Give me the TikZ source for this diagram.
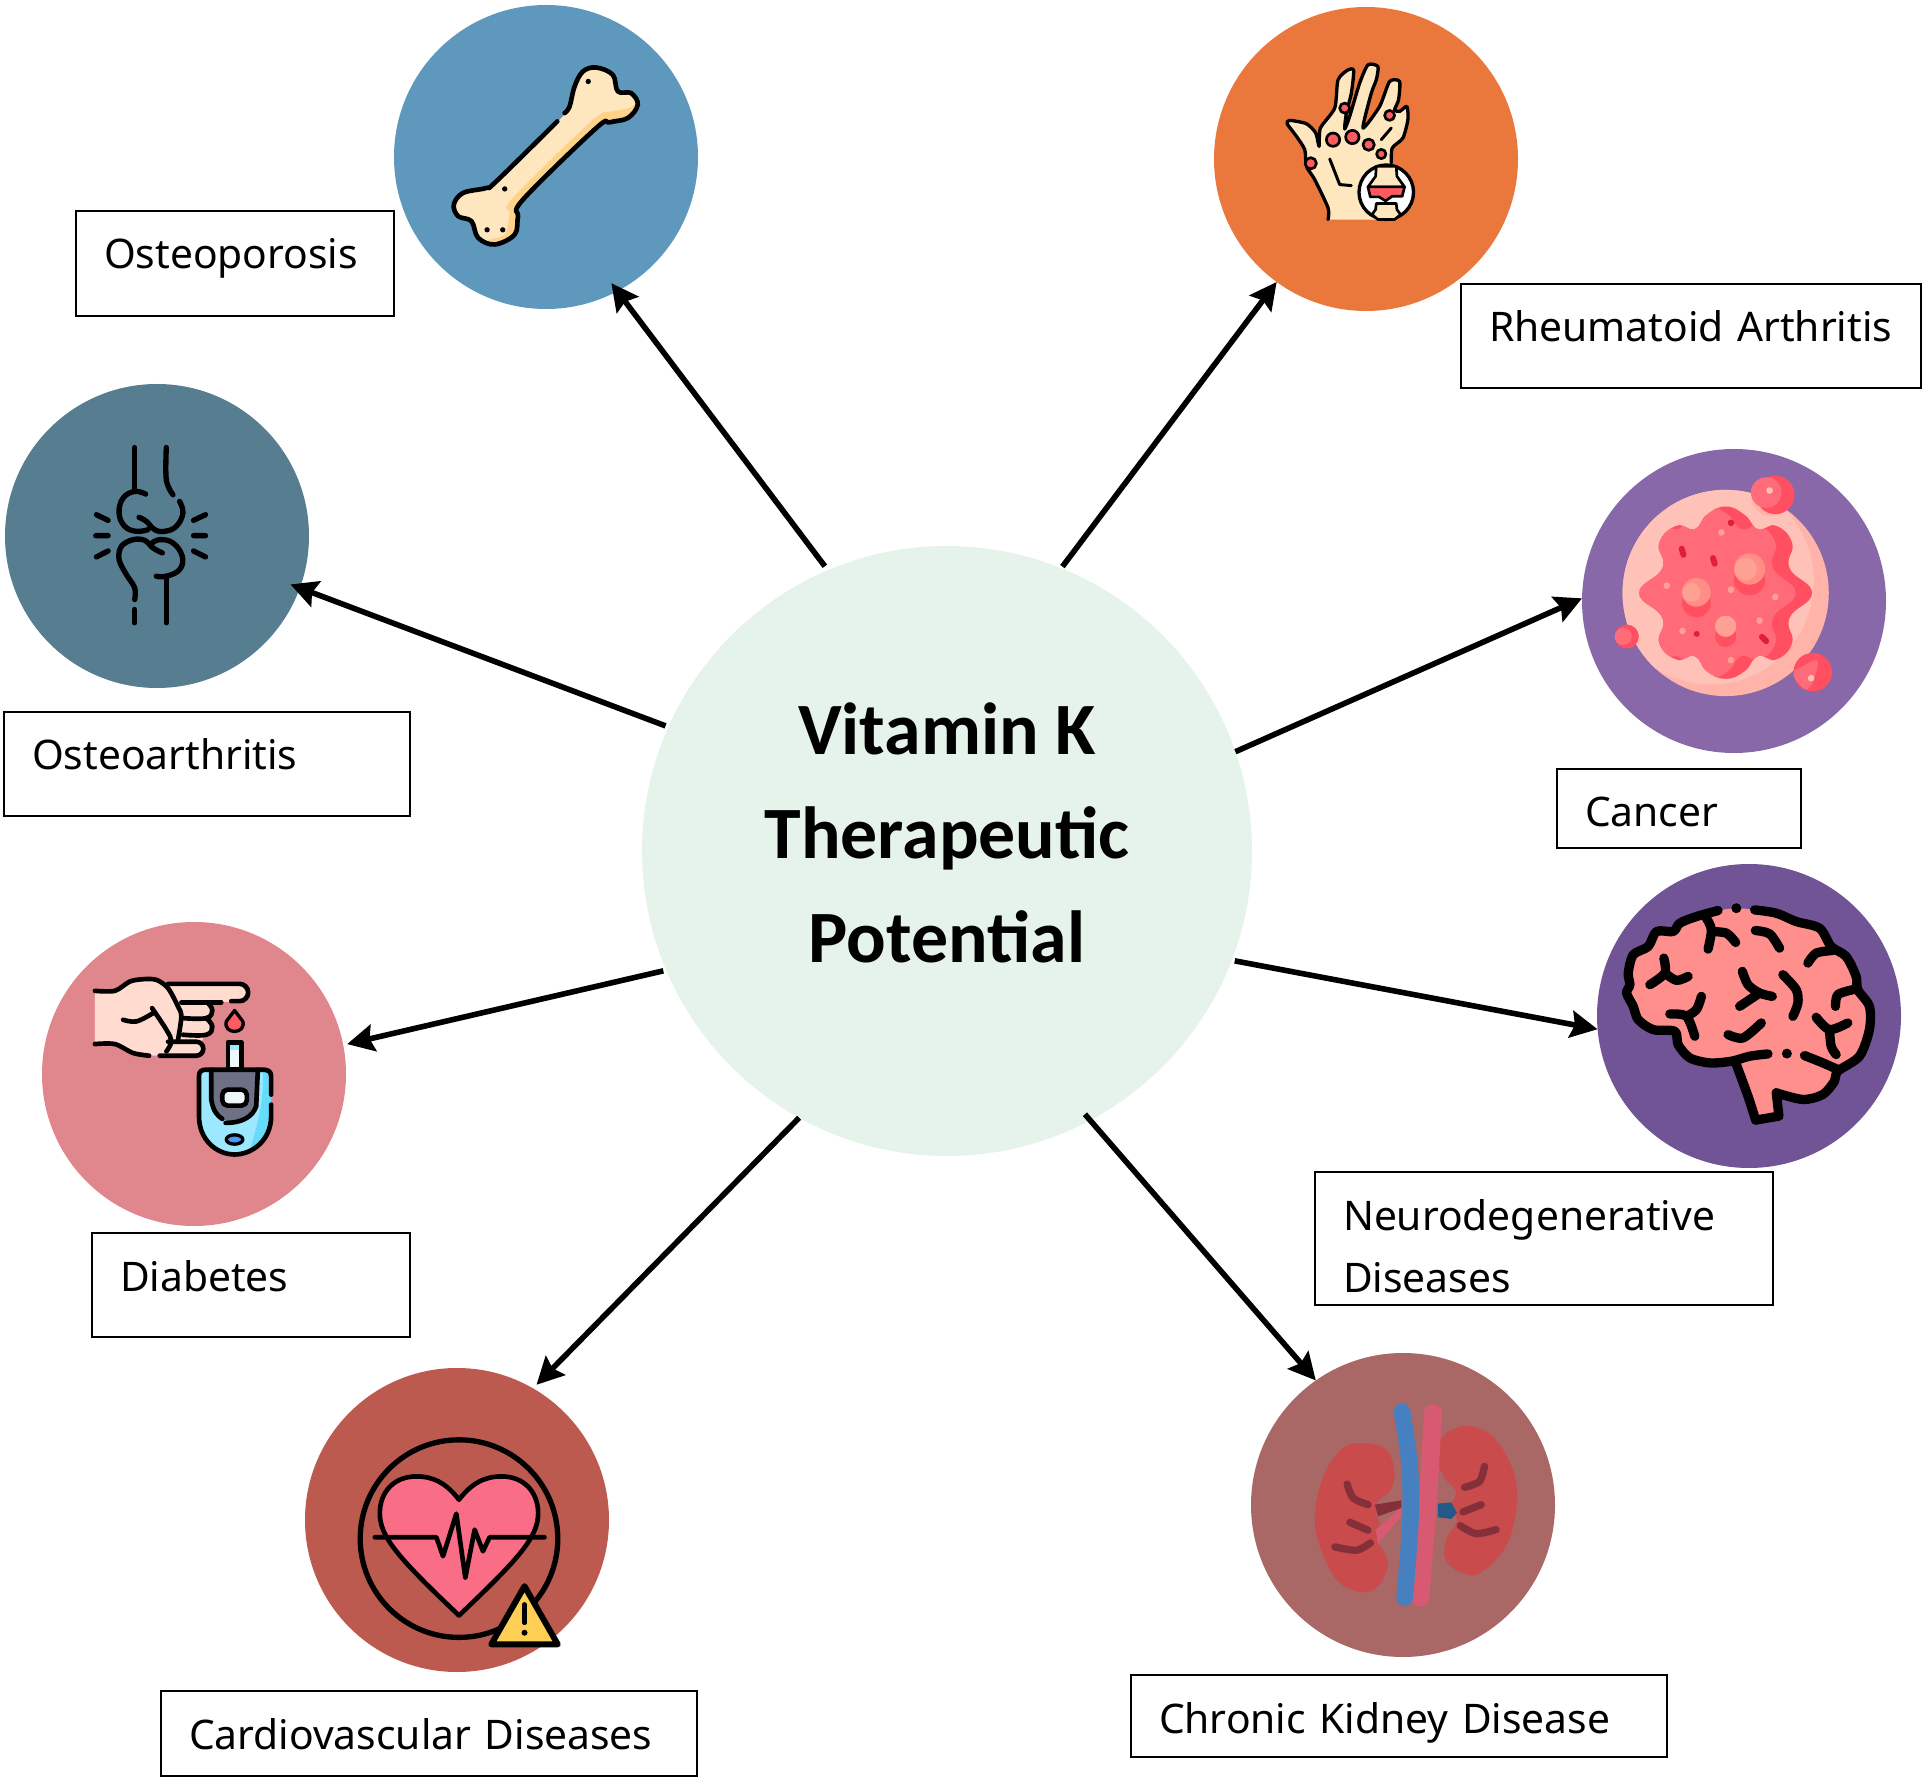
\documentclass[tikz,border=0pt]{standalone}
\usepackage{fontspec}
\setmainfont{Noto Sans}
\newfontfamily\titlefont{Carlito}
\usetikzlibrary{arrows.meta}
\definecolor{hubgreen}{HTML}{E6F3EA}
\definecolor{bonecol}{HTML}{5E98BC}
\definecolor{handcol}{HTML}{EA783C}
\definecolor{jointcol}{HTML}{577D90}
\definecolor{cellcol}{HTML}{8868A8}
\definecolor{braincol}{HTML}{705496}
\definecolor{sugarcol}{HTML}{E0878D}
\definecolor{heartcol}{HTML}{BC5A50}
\definecolor{kidneycol}{HTML}{A96765}
\definecolor{ivory}{HTML}{FEE6BE}
\definecolor{ivorydark}{HTML}{FFD28A}
\definecolor{sore}{HTML}{FF5A5F}
\definecolor{blob}{HTML}{FF6B78}
\definecolor{blobdark}{HTML}{FF4F60}
\definecolor{blobpale}{HTML}{FFA094}
\definecolor{blobshade}{HTML}{FF8F84}
\definecolor{diskpale}{HTML}{FFC2B8}
\definecolor{diskdark}{HTML}{FFB3A9}
\definecolor{speck}{HTML}{E0203A}
\definecolor{brainpink}{HTML}{FF8F8C}
\definecolor{skin}{HTML}{FFDCCF}
\definecolor{meterblue}{HTML}{9BE8FF}
\definecolor{meterdark}{HTML}{65DCFA}
\definecolor{meterpanel}{HTML}{6E7085}
\definecolor{screenpale}{HTML}{EEF8FA}
\definecolor{heartpink}{HTML}{F96E86}
\definecolor{warnyellow}{HTML}{FFCF55}
\definecolor{kidneyred}{HTML}{C94B4B}
\definecolor{kidneyline}{HTML}{842F3A}
\definecolor{tubepink}{HTML}{D85A72}
\definecolor{tubeblue}{HTML}{4680C0}
\definecolor{veindark}{HTML}{245A8A}
\tikzset{
  >={Stealth[length=0.27cm,width=0.27cm,inset=0.04cm]},
  disease/.style={circle, minimum size=3.04cm, inner sep=0pt, outer sep=0pt},
  labelbox/.style={draw, line width=0.02cm, inner xsep=0.28cm, inner ysep=0pt, outer sep=0pt, align=left, text height=0.58cm,
    font=\fontsize{11.6}{17.9}\selectfont},
  vkarrow/.style={->, line width=0.056cm},
  zoomed/.style={x=0.003333cm, y=-0.003333cm, line cap=round, line join=round},
  ink/.style={line width=#1*0.003333cm}
}
\newcommand\cellblob{plot[smooth cycle, tension=0.8] coordinates {(468,200) (525,225) (565,268) (620,258) (668,310) (660,385) (728,460) (660,535) (668,610) (620,660) (565,650) (525,695) (468,718) (411,695) (375,650) (320,660) (268,610) (278,535) (208,460) (278,385) (268,310) (320,258) (375,268) (411,225)}}
\begin{document}
\begin{tikzpicture}
\useasboundingbox (0,0) rectangle (19.25,17.80);

\node at (9.47,9.29) [circle, fill=hubgreen, minimum size=6.1cm, inner sep=0pt, outer sep=0pt, align=center,
  font=\titlefont\bfseries\fontsize{21}{29.6}\selectfont] (hub) {Vitamin K\\Therapeutic\\Potential\\[-0.68cm]};

\node at (5.46,16.23) [disease, fill=bonecol] (bone) {};
\node at (13.66,16.21) [disease, fill=handcol] (hand) {};
\node at (1.57,12.44) [disease, fill=jointcol] (joint) {};
\node at (17.34,11.79) [disease, fill=cellcol] (cell) {};
\node at (17.49,7.64) [disease, fill=braincol] (brain) {};
\node at (1.94,7.06) [disease, fill=sugarcol] (sugar) {};
\node at (4.57,2.60) [disease, fill=heartcol] (heart) {};
\node at (14.03,2.75) [disease, fill=kidneycol] (kidney) {};

\node at (2.35,15.165) [labelbox, text width=2.62cm, text depth=0.47cm] (osteoporosis) {Osteoporosis};
\node at (16.91,14.44) [labelbox, text width=4.04cm, text depth=0.46cm] (rheumatoid) {Rheumatoid Arthritis};
\node at (2.07,10.16) [labelbox, text width=3.50cm, text depth=0.46cm] (osteoarthritis) {Osteoarthritis};
\node at (16.79,9.715) [labelbox, text width=1.88cm, text depth=0.21cm] (cancer) {Cancer};
\node at (15.44,5.415) [labelbox, text width=4.02cm, text depth=0.75cm] (neuro) {Neurodegenerative\\Diseases};
\node at (2.51,4.95) [labelbox, text width=2.62cm, text depth=0.46cm] (diabetes) {Diabetes};
\node at (4.29,0.465) [labelbox, text width=4.80cm, text depth=0.27cm] (cardio) {Cardiovascular Diseases};
\node at (13.99,0.64) [labelbox, text width=4.80cm, text depth=0.24cm] (ckd) {Chronic Kidney Disease};

\draw[vkarrow, shorten <=0.05cm, shorten >=-0.1cm] (hub.113.3) -- (bone.-62.4);
\draw[vkarrow, shorten <=0.02cm] (hub.68) -- (hand.234.1);
\draw[vkarrow, shorten <=0.03cm, shorten >=-0.1cm] (hub.156.8) -- (joint.-20.2);
\draw[vkarrow] (hub.19.1) -- (cell.179);
\draw[vkarrow, shorten <=0.03cm] (hub.-21.7) -- (brain.185.3);
\draw[vkarrow, shorten <=-0.08cm] (hub.-62.4) -- (kidney.125.8);
\draw[vkarrow, shorten >=0.05cm] (hub.-119.5) -- (heart.60.7);
\draw[vkarrow, shorten <=0.03cm, shorten >=0.04cm] (hub.203.8) -- (sugar.11.8);

% bone
\begin{scope}[shift={(3.80,17.80)}, zoomed]
  \fill[ivory] plot[smooth cycle, tension=0.6] coordinates {(650,203) (700,225) (715,275) (755,280) (775,315) (745,355) (690,368) (650,385) (430,600) (415,650) (405,705) (345,735) (295,715) (275,665) (235,650) (222,615) (250,580) (320,565) (350,545) (535,365) (570,320) (585,260) (610,215)};
  \fill[ivorydark] plot[smooth cycle, tension=0.5] coordinates {(770,310) (745,355) (690,368) (650,385) (430,600) (415,650) (405,705) (345,735) (325,722) (375,705) (390,640) (395,600) (640,360) (700,335) (750,325)};
  \draw[ink=14] plot[smooth, tension=0.6] coordinates {(555,340) (570,320) (585,260) (610,215) (650,203) (700,225) (715,275) (755,280) (775,315) (745,355) (690,368) (650,385) (430,600) (415,650) (405,705) (345,735) (295,715) (275,665) (235,650) (222,615) (250,580) (320,565) (350,545) (533,365)};
  \fill (626,245) circle[radius=8] (375,568) circle[radius=8] (322,691) circle[radius=8] (369,691) circle[radius=8];
\end{scope}

% hand with sore joints
\begin{scope}[shift={(12.00,17.80)}, zoomed]
  \fill[ivory] (385,660) -- (560,660) -- (575,480) -- cycle;
  \draw[ink=10, fill=ivory] plot[smooth, tension=0.4] coordinates {(385,660) (385,625) (345,540) (320,500) (315,450) (290,410) (262,372) (270,362) (320,372) (348,400) (358,440) (362,385) (405,325) (415,240) (445,210) (462,212) (455,280) (440,340) (435,388) (450,350) (480,250) (505,195) (535,200) (530,240) (515,280) (490,385) (540,320) (570,245) (600,245) (597,300) (585,330) (600,335) (622,320) (625,360) (610,415) (578,445) (575,490)};
  \draw[ink=9] (390,478) -- (420,555) -- (455,558) (545,420) -- (575,385);
  \draw[ink=8, fill=sore] (435,325) circle[radius=15] (570,347) circle[radius=15] (400,420) circle[radius=20] (458,412) circle[radius=20] (507,435) circle[radius=17] (545,463) circle[radius=14] (333,491) circle[radius=17];
  \draw[ink=10, fill=white] (560,578) circle[radius=82];
  \draw[ink=8, fill=ivory] (530,500) -- (590,500) -- (592,530) -- (615,562) -- (505,562) -- (528,530) -- cycle;
  \draw[ink=8, fill=sore] (505,562) -- (615,562) -- (608,590) -- (578,590) -- (558,604) -- (538,592) -- (512,592) -- cycle;
  \draw[ink=8, fill=ivory] (530,612) -- (590,612) -- (592,630) -- (603,645) -- (585,660) -- (535,660) -- (517,645) -- (528,630) -- cycle;
\end{scope}

% knee
\begin{scope}[shift={(0,14.00)}, zoomed, ink=16]
  \draw (405,203) -- (405,335);
  \draw plot[smooth, tension=0.7] coordinates {(438,343) (405,335) (370,355) (358,400) (375,440) (410,455) (445,450)};
  \draw plot[smooth, tension=0.7] coordinates {(418,413) (440,425) (465,450) (495,455) (530,440) (550,400) (540,365)};
  \draw plot[smooth, tension=0.6] coordinates {(500,203) (500,300) (520,345)};
  \draw plot[smooth, tension=0.6] coordinates {(405,660) (405,625) (380,585) (358,540) (365,500) (400,480) (435,482) (460,505) (488,520)};
  \draw plot[smooth, tension=0.7] coordinates {(455,492) (480,480) (520,490) (548,530) (540,570) (500,590) (470,590)};
  \draw (500,590) -- (500,730) (405,690) -- (405,730);
  \draw (290,405) -- (325,422) (288,468) -- (325,468) (290,532) -- (325,514);
  \draw (618,405) -- (582,422) (582,468) -- (618,468) (582,514) -- (618,532);
\end{scope}

% tumour cell
\begin{scope}[shift={(15.70,13.40)}, zoomed]
  \fill[diskdark] (468,460) circle[radius=310];
  \begin{scope}
    \clip (468,460) circle[radius=310];
    \fill[diskpale] (423,425) circle[radius=310];
    \fill[diskdark] (605,170) circle[radius=60];
  \end{scope}
  \fill[blobdark] \cellblob;
  \begin{scope}
    \clip \cellblob;
    \fill[blob, shift={(-50,0)}] \cellblob;
  \end{scope}
  \fill[blobdark] (380,490) circle[radius=43] (540,420) circle[radius=47] (468,590) circle[radius=32];
  \fill[blobshade] (380,458) circle[radius=43] (540,388) circle[radius=47];
  \fill[blobpale] (365,458) circle[radius=28] (528,388) circle[radius=34];
  \fill[blobpale] (468,560) circle[radius=32];
  \fill[blobpale] (455,278) circle[radius=10] (291,438) circle[radius=10] (484,450) circle[radius=10] (617,472) circle[radius=10] (570,543) circle[radius=10] (338,574) circle[radius=10] (484,662) circle[radius=10];
  \fill[speck] (484,249) circle[radius=10] (381,583) circle[radius=9];
  \draw[speck, ink=18] (336,327) -- (341,345) (430,355) -- (435,372) (577,592) -- (590,605);
  \fill[blobdark] (617,165) circle[radius=58];
  \fill[blob] (590,158) circle[radius=46];
  \fill[blobdark] (730,698) circle[radius=58];
  \fill[blob] plot[smooth cycle, tension=0.7] coordinates {(745,665) (720,745) (690,735) (672,700) (700,680)};
  \fill[blobdark] (171,591) circle[radius=36];
  \fill[blob] (160,591) circle[radius=26];
  \fill[diskpale] (600,152) circle[radius=10] (725,716) circle[radius=10];
\end{scope}

% brain
\begin{scope}[shift={(15.90,9.20)}, zoomed, ink=28]
  \fill[brainpink] plot[smooth cycle, tension=0.5] coordinates {(385,152) (440,145) (495,150) (560,160) (620,185) (690,205) (725,260) (770,290) (800,350) (805,390) (840,440) (840,510) (810,590) (745,635) (735,665) (700,705) (640,720) (560,700) (568,770) (498,782) (475,710) (440,615) (360,610) (300,595) (265,555) (255,515) (190,510) (145,480) (130,440) (110,400) (120,375) (115,340) (130,285) (175,260) (200,215) (250,215) (270,190) (320,170)};
  \draw plot[smooth, tension=0.5] coordinates {(385,152) (320,170) (270,190) (250,215) (200,215) (175,260) (130,285) (115,340) (120,375) (110,400) (130,440) (145,480) (190,510) (255,515) (265,555) (300,595) (360,610) (425,605) (480,590) (535,583)};
  \draw plot[smooth, tension=0.5] coordinates {(645,588) (700,610) (745,630)};
  \draw plot[smooth, tension=0.5] coordinates {(495,150) (560,160) (620,185) (690,205) (725,260) (770,290) (800,350) (805,390) (840,440) (840,510) (810,590) (745,635) (735,665) (700,705) (640,720) (560,700)};
  \draw (560,700) -- (568,770) -- (498,782);
  \draw plot[smooth, tension=0.5] coordinates {(498,782) (475,710) (440,615)};
  \draw plot[smooth] coordinates {(350,175) (365,210) (355,268)};
  \draw plot[smooth] coordinates {(365,215) (410,220) (438,248)};
  \draw plot[smooth] coordinates {(497,212) (540,222) (570,265)};
  \draw plot[smooth] coordinates {(222,295) (225,340) (180,375)};
  \draw plot[smooth] coordinates {(225,340) (260,362) (295,350)};
  \draw plot[smooth] coordinates {(458,335) (475,375) (510,400) (548,410)};
  \draw plot[smooth] coordinates {(510,400) (450,440)};
  \draw plot[smooth] coordinates {(580,345) (620,390) (625,430) (610,470)};
  \draw plot[smooth] coordinates {(240,463) (290,470) (315,530)};
  \draw plot[smooth] coordinates {(335,410) (320,450) (290,470)};
  \draw plot[smooth] coordinates {(415,525) (460,535) (515,490)};
  \draw plot[smooth] coordinates {(655,310) (680,280) (730,272)};
  \draw plot[smooth] coordinates {(738,440) (745,405) (790,390)};
  \draw plot[smooth] coordinates {(680,473) (720,510) (775,490)};
  \draw plot[smooth] coordinates {(720,510) (725,560) (740,585)};
  \fill (592,582) circle[radius=15] (440,145) circle[radius=15];
\end{scope}

% finger prick and meter
\begin{scope}[shift={(0.40,8.60)}, zoomed, ink=14]
  \fill[skin] (165,213) -- (225,213) -- (270,185) -- (310,178) -- (350,180) -- (385,192) -- (600,192) -- (622,218) -- (600,245) -- (510,248) -- (515,285) -- (505,300) -- (510,330) -- (495,350) -- (485,365) -- (490,395) -- (470,408) -- (330,408) -- (280,400) -- (225,373) -- (165,373) -- cycle;
  \draw plot[smooth, tension=0.5] coordinates {(165,213) (225,213) (270,185) (310,178) (350,180) (385,205) (415,260) (425,290) (415,360)};
  \draw (385,192) -- (600,192) arc[start angle=-90, end angle=90, radius=26] -- (575,244);
  \draw (425,248) -- (545,248);
  \draw plot[smooth, tension=0.7] coordinates {(505,250) (518,272) (500,295) (430,295)};
  \draw plot[smooth, tension=0.7] coordinates {(500,295) (518,320) (500,345) (430,345)};
  \draw plot[smooth, tension=0.5] coordinates {(165,373) (225,373) (280,400) (328,408)};
  \draw (360,408) -- (470,408) arc[start angle=90, end angle=-90, radius=21] -- (385,366);
  \draw plot[smooth, tension=0.6] coordinates {(250,300) (290,305) (340,280)};
  \draw plot[smooth, tension=0.6] coordinates {(337,265) (380,330) (395,365) (380,395)};
  \draw[ink=10, fill=sore] (585,272) -- (610,305) .. controls (620,345) and (550,345) .. (560,305) -- cycle;
  \draw[fill=screenpale] (565,368) rectangle (605,448);
  \fill[meterblue] (572,376) rectangle (598,392);
  \fill[meterblue] (478,470) .. controls (478,455) and (485,450) .. (500,450) -- (670,450) .. controls (685,450) and (695,455) .. (695,470) -- (695,590) .. controls (695,660) and (640,705) .. (585,705) .. controls (530,705) and (478,660) .. (478,590) -- cycle;
  \fill[meterdark] (695,470) -- (695,590) .. controls (695,640) and (670,680) .. (630,695) .. controls (645,640) and (675,560) .. (670,450) -- cycle;
  \fill[meterpanel] (515,450) -- (655,450) -- (650,560) .. controls (640,590) and (610,608) .. (585,608) .. controls (550,605) and (520,590) .. (515,540) -- cycle;
  \draw (515,450) -- (515,540) .. controls (520,575) and (535,590) .. (548,598);
  \draw (655,450) -- (650,560) .. controls (640,590) and (610,610) .. (558,610);
  \draw (695,525) -- (695,470) .. controls (695,455) and (685,450) .. (670,450) -- (500,450) .. controls (485,450) and (478,455) .. (478,470) -- (478,590) .. controls (478,660) and (530,705) .. (585,705) .. controls (640,705) and (695,660) .. (695,590) -- (695,555);
  \draw[fill=screenpale, rounded corners=1.5pt] (548,510) rectangle (622,558);
  \draw[ink=10, fill=meterdark!70!blue] (585,660) ellipse[x radius=25, y radius=14];
\end{scope}

% heart with warning
\begin{scope}[shift={(3.00,4.20)}, zoomed]
  \draw[ink=16] (478,537) circle[radius=297];
  \draw[ink=14, fill=heartpink] (478,420) .. controls (440,370) and (400,350) .. (350,350) .. controls (280,350) and (240,400) .. (240,460) .. controls (240,530) and (290,590) .. (478,768) .. controls (666,590) and (716,530) .. (716,460) .. controls (716,400) and (676,350) .. (606,350) .. controls (556,350) and (516,370) .. (478,420) -- cycle;
  \draw[ink=14] (225,533) -- (410,533) -- (430,590) -- (470,462) -- (497,655) -- (525,510) -- (550,575) -- (570,533) -- (735,533);
  \draw[ink=18, fill=warnyellow] (675,680) -- (775,855) -- (575,855) -- cycle;
  \draw[ink=14] (675,735) -- (675,790);
  \fill (675,820) circle[radius=9];
\end{scope}

% kidneys
\begin{scope}[shift={(12.50,4.30)}, zoomed]
  \fill[kidneyred] plot[smooth cycle, tension=0.6] coordinates {(340,280) (410,300) (435,370) (420,425) (378,465) (392,540) (382,570) (415,640) (385,710) (330,728) (260,690) (210,590) (195,490) (225,370) (280,295)};
  \fill[kidneyred] plot[smooth cycle, tension=0.6] coordinates {(650,228) (730,260) (790,360) (802,470) (770,590) (700,665) (650,675) (590,635) (590,570) (622,515) (605,470) (620,425) (585,385) (565,330) (580,260)};
  \fill[veindark] (565,462) -- (605,458) -- (622,490) -- (605,508) -- (565,503) -- cycle;
  \fill[kidneyline] (375,465) -- (455,452) -- (455,475) -- (385,500) -- cycle;
  \fill[tubepink] (378,540) -- (455,475) -- (455,500) -- (395,570) -- (385,585) -- cycle;
  \draw[kidneyline, ink=22] plot[smooth] coordinates {(292,403) (310,445) (355,465)};
  \draw[kidneyline, ink=22] plot[smooth] coordinates {(300,518) (355,542)};
  \draw[kidneyline, ink=22] plot[smooth] coordinates {(255,592) (320,602) (362,580)};
  \draw[kidneyline, ink=22] plot[smooth] coordinates {(705,350) (690,395) (645,413)};
  \draw[kidneyline, ink=22] plot[smooth] coordinates {(640,487) (695,465)};
  \draw[kidneyline, ink=22] plot[smooth] coordinates {(632,528) (680,552) (740,540)};
  \draw[tubepink, ink=54] plot[smooth] coordinates {(550,190) (535,450) (512,745)};
  \draw[tubeblue, ink=50] plot[smooth] coordinates {(457,185) (480,350) (482,520) (465,745)};
\end{scope}
\end{tikzpicture}
\end{document}
